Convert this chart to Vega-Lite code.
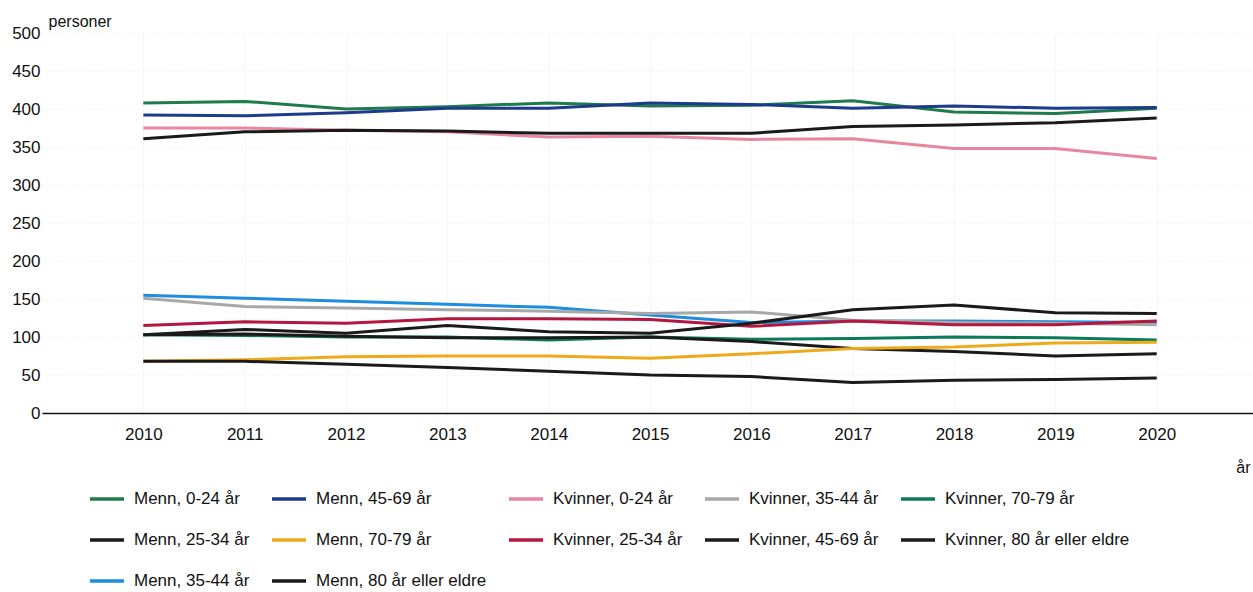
{
  "$schema": "https://vega.github.io/schema/vega-lite/v6.json",
  "width": 1211,
  "height": 380,
  "autosize": {"type": "none"},
  "padding": {"left": 42, "top": 33, "right": 0, "bottom": 179},
  "background": "white",
  "config": {
    "view": {"stroke": null},
    "font": "Liberation Sans"
  },
  "data": {
    "values": [
      {"år": 2010, "gruppe": "Menn, 0-24 år", "personer": 408},
      {"år": 2011, "gruppe": "Menn, 0-24 år", "personer": 410},
      {"år": 2012, "gruppe": "Menn, 0-24 år", "personer": 400},
      {"år": 2013, "gruppe": "Menn, 0-24 år", "personer": 403},
      {"år": 2014, "gruppe": "Menn, 0-24 år", "personer": 408},
      {"år": 2015, "gruppe": "Menn, 0-24 år", "personer": 404},
      {"år": 2016, "gruppe": "Menn, 0-24 år", "personer": 405},
      {"år": 2017, "gruppe": "Menn, 0-24 år", "personer": 411},
      {"år": 2018, "gruppe": "Menn, 0-24 år", "personer": 396},
      {"år": 2019, "gruppe": "Menn, 0-24 år", "personer": 394},
      {"år": 2020, "gruppe": "Menn, 0-24 år", "personer": 401},

      {"år": 2010, "gruppe": "Menn, 45-69 år", "personer": 392},
      {"år": 2011, "gruppe": "Menn, 45-69 år", "personer": 391},
      {"år": 2012, "gruppe": "Menn, 45-69 år", "personer": 395},
      {"år": 2013, "gruppe": "Menn, 45-69 år", "personer": 401},
      {"år": 2014, "gruppe": "Menn, 45-69 år", "personer": 401},
      {"år": 2015, "gruppe": "Menn, 45-69 år", "personer": 408},
      {"år": 2016, "gruppe": "Menn, 45-69 år", "personer": 406},
      {"år": 2017, "gruppe": "Menn, 45-69 år", "personer": 401},
      {"år": 2018, "gruppe": "Menn, 45-69 år", "personer": 404},
      {"år": 2019, "gruppe": "Menn, 45-69 år", "personer": 401},
      {"år": 2020, "gruppe": "Menn, 45-69 år", "personer": 402},

      {"år": 2010, "gruppe": "Kvinner, 0-24 år", "personer": 375},
      {"år": 2011, "gruppe": "Kvinner, 0-24 år", "personer": 375},
      {"år": 2012, "gruppe": "Kvinner, 0-24 år", "personer": 372},
      {"år": 2013, "gruppe": "Kvinner, 0-24 år", "personer": 370},
      {"år": 2014, "gruppe": "Kvinner, 0-24 år", "personer": 363},
      {"år": 2015, "gruppe": "Kvinner, 0-24 år", "personer": 364},
      {"år": 2016, "gruppe": "Kvinner, 0-24 år", "personer": 360},
      {"år": 2017, "gruppe": "Kvinner, 0-24 år", "personer": 361},
      {"år": 2018, "gruppe": "Kvinner, 0-24 år", "personer": 348},
      {"år": 2019, "gruppe": "Kvinner, 0-24 år", "personer": 348},
      {"år": 2020, "gruppe": "Kvinner, 0-24 år", "personer": 335},

      {"år": 2010, "gruppe": "Kvinner, 45-69 år", "personer": 361},
      {"år": 2011, "gruppe": "Kvinner, 45-69 år", "personer": 370},
      {"år": 2012, "gruppe": "Kvinner, 45-69 år", "personer": 372},
      {"år": 2013, "gruppe": "Kvinner, 45-69 år", "personer": 371},
      {"år": 2014, "gruppe": "Kvinner, 45-69 år", "personer": 368},
      {"år": 2015, "gruppe": "Kvinner, 45-69 år", "personer": 368},
      {"år": 2016, "gruppe": "Kvinner, 45-69 år", "personer": 368},
      {"år": 2017, "gruppe": "Kvinner, 45-69 år", "personer": 377},
      {"år": 2018, "gruppe": "Kvinner, 45-69 år", "personer": 379},
      {"år": 2019, "gruppe": "Kvinner, 45-69 år", "personer": 382},
      {"år": 2020, "gruppe": "Kvinner, 45-69 år", "personer": 388},

      {"år": 2010, "gruppe": "Menn, 35-44 år", "personer": 155},
      {"år": 2011, "gruppe": "Menn, 35-44 år", "personer": 151},
      {"år": 2012, "gruppe": "Menn, 35-44 år", "personer": 147},
      {"år": 2013, "gruppe": "Menn, 35-44 år", "personer": 143},
      {"år": 2014, "gruppe": "Menn, 35-44 år", "personer": 139},
      {"år": 2015, "gruppe": "Menn, 35-44 år", "personer": 129},
      {"år": 2016, "gruppe": "Menn, 35-44 år", "personer": 119},
      {"år": 2017, "gruppe": "Menn, 35-44 år", "personer": 121},
      {"år": 2018, "gruppe": "Menn, 35-44 år", "personer": 121},
      {"år": 2019, "gruppe": "Menn, 35-44 år", "personer": 120},
      {"år": 2020, "gruppe": "Menn, 35-44 år", "personer": 119},

      {"år": 2010, "gruppe": "Kvinner, 35-44 år", "personer": 151},
      {"år": 2011, "gruppe": "Kvinner, 35-44 år", "personer": 140},
      {"år": 2012, "gruppe": "Kvinner, 35-44 år", "personer": 138},
      {"år": 2013, "gruppe": "Kvinner, 35-44 år", "personer": 136},
      {"år": 2014, "gruppe": "Kvinner, 35-44 år", "personer": 134},
      {"år": 2015, "gruppe": "Kvinner, 35-44 år", "personer": 131},
      {"år": 2016, "gruppe": "Kvinner, 35-44 år", "personer": 133},
      {"år": 2017, "gruppe": "Kvinner, 35-44 år", "personer": 122},
      {"år": 2018, "gruppe": "Kvinner, 35-44 år", "personer": 119},
      {"år": 2019, "gruppe": "Kvinner, 35-44 år", "personer": 118},
      {"år": 2020, "gruppe": "Kvinner, 35-44 år", "personer": 116},

      {"år": 2010, "gruppe": "Kvinner, 25-34 år", "personer": 115},
      {"år": 2011, "gruppe": "Kvinner, 25-34 år", "personer": 120},
      {"år": 2012, "gruppe": "Kvinner, 25-34 år", "personer": 118},
      {"år": 2013, "gruppe": "Kvinner, 25-34 år", "personer": 124},
      {"år": 2014, "gruppe": "Kvinner, 25-34 år", "personer": 124},
      {"år": 2015, "gruppe": "Kvinner, 25-34 år", "personer": 123},
      {"år": 2016, "gruppe": "Kvinner, 25-34 år", "personer": 114},
      {"år": 2017, "gruppe": "Kvinner, 25-34 år", "personer": 121},
      {"år": 2018, "gruppe": "Kvinner, 25-34 år", "personer": 116},
      {"år": 2019, "gruppe": "Kvinner, 25-34 år", "personer": 116},
      {"år": 2020, "gruppe": "Kvinner, 25-34 år", "personer": 121},

      {"år": 2010, "gruppe": "Menn, 25-34 år", "personer": 103},
      {"år": 2011, "gruppe": "Menn, 25-34 år", "personer": 110},
      {"år": 2012, "gruppe": "Menn, 25-34 år", "personer": 105},
      {"år": 2013, "gruppe": "Menn, 25-34 år", "personer": 115},
      {"år": 2014, "gruppe": "Menn, 25-34 år", "personer": 107},
      {"år": 2015, "gruppe": "Menn, 25-34 år", "personer": 105},
      {"år": 2016, "gruppe": "Menn, 25-34 år", "personer": 118},
      {"år": 2017, "gruppe": "Menn, 25-34 år", "personer": 136},
      {"år": 2018, "gruppe": "Menn, 25-34 år", "personer": 142},
      {"år": 2019, "gruppe": "Menn, 25-34 år", "personer": 132},
      {"år": 2020, "gruppe": "Menn, 25-34 år", "personer": 131},

      {"år": 2010, "gruppe": "Kvinner, 70-79 år", "personer": 103},
      {"år": 2011, "gruppe": "Kvinner, 70-79 år", "personer": 102},
      {"år": 2012, "gruppe": "Kvinner, 70-79 år", "personer": 100},
      {"år": 2013, "gruppe": "Kvinner, 70-79 år", "personer": 100},
      {"år": 2014, "gruppe": "Kvinner, 70-79 år", "personer": 96},
      {"år": 2015, "gruppe": "Kvinner, 70-79 år", "personer": 100},
      {"år": 2016, "gruppe": "Kvinner, 70-79 år", "personer": 97},
      {"år": 2017, "gruppe": "Kvinner, 70-79 år", "personer": 98},
      {"år": 2018, "gruppe": "Kvinner, 70-79 år", "personer": 100},
      {"år": 2019, "gruppe": "Kvinner, 70-79 år", "personer": 99},
      {"år": 2020, "gruppe": "Kvinner, 70-79 år", "personer": 96},

      {"år": 2010, "gruppe": "Kvinner, 80 år eller eldre", "personer": 103},
      {"år": 2011, "gruppe": "Kvinner, 80 år eller eldre", "personer": 104},
      {"år": 2012, "gruppe": "Kvinner, 80 år eller eldre", "personer": 101},
      {"år": 2013, "gruppe": "Kvinner, 80 år eller eldre", "personer": 99},
      {"år": 2014, "gruppe": "Kvinner, 80 år eller eldre", "personer": 99},
      {"år": 2015, "gruppe": "Kvinner, 80 år eller eldre", "personer": 100},
      {"år": 2016, "gruppe": "Kvinner, 80 år eller eldre", "personer": 94},
      {"år": 2017, "gruppe": "Kvinner, 80 år eller eldre", "personer": 85},
      {"år": 2018, "gruppe": "Kvinner, 80 år eller eldre", "personer": 81},
      {"år": 2019, "gruppe": "Kvinner, 80 år eller eldre", "personer": 75},
      {"år": 2020, "gruppe": "Kvinner, 80 år eller eldre", "personer": 78},

      {"år": 2010, "gruppe": "Menn, 70-79 år", "personer": 68},
      {"år": 2011, "gruppe": "Menn, 70-79 år", "personer": 70},
      {"år": 2012, "gruppe": "Menn, 70-79 år", "personer": 74},
      {"år": 2013, "gruppe": "Menn, 70-79 år", "personer": 75},
      {"år": 2014, "gruppe": "Menn, 70-79 år", "personer": 75},
      {"år": 2015, "gruppe": "Menn, 70-79 år", "personer": 72},
      {"år": 2016, "gruppe": "Menn, 70-79 år", "personer": 78},
      {"år": 2017, "gruppe": "Menn, 70-79 år", "personer": 85},
      {"år": 2018, "gruppe": "Menn, 70-79 år", "personer": 87},
      {"år": 2019, "gruppe": "Menn, 70-79 år", "personer": 92},
      {"år": 2020, "gruppe": "Menn, 70-79 år", "personer": 93},

      {"år": 2010, "gruppe": "Menn, 80 år eller eldre", "personer": 68},
      {"år": 2011, "gruppe": "Menn, 80 år eller eldre", "personer": 68},
      {"år": 2012, "gruppe": "Menn, 80 år eller eldre", "personer": 64},
      {"år": 2013, "gruppe": "Menn, 80 år eller eldre", "personer": 60},
      {"år": 2014, "gruppe": "Menn, 80 år eller eldre", "personer": 55},
      {"år": 2015, "gruppe": "Menn, 80 år eller eldre", "personer": 50},
      {"år": 2016, "gruppe": "Menn, 80 år eller eldre", "personer": 48},
      {"år": 2017, "gruppe": "Menn, 80 år eller eldre", "personer": 40},
      {"år": 2018, "gruppe": "Menn, 80 år eller eldre", "personer": 43},
      {"år": 2019, "gruppe": "Menn, 80 år eller eldre", "personer": 44},
      {"år": 2020, "gruppe": "Menn, 80 år eller eldre", "personer": 46}
    ]
  },
  "mark": {"type": "line", "strokeWidth": 3, "interpolate": "linear"},
  "encoding": {
    "x": {
      "field": "år",
      "type": "quantitative",
      "scale": {"domain": [2009, 2020.95], "nice": false, "zero": false},
      "axis": {
        "title": "år",
        "values": [2010, 2011, 2012, 2013, 2014, 2015, 2016, 2017, 2018, 2019, 2020],
        "format": "d",
        "labelAngle": 0,
        "ticks": false,
        "grid": true,
        "gridColor": "#f6f6f6",
        "domainColor": "#111111",
        "domainWidth": 1.5,
        "labelFontSize": 17,
        "labelColor": "#111111",
        "labelPadding": 13,
        "labelFlush": false,
        "labelOverlap": false,
        "titleFontSize": 16,
        "titleFontWeight": "normal",
        "titleColor": "#111111",
        "titleX": 1208,
        "titleY": 54,
        "titleAlign": "right",
        "titleBaseline": "middle",
        "titleAnchor": null
      }
    },
    "y": {
      "field": "personer",
      "type": "quantitative",
      "scale": {"domain": [0, 500], "nice": false},
      "axis": {
        "title": "personer",
        "values": [0, 50, 100, 150, 200, 250, 300, 350, 400, 450, 500],
        "domain": false,
        "ticks": false,
        "grid": true,
        "gridColor": "#f2f2f2",
        "gridDash": [2, 3],
        "labelPadding": 2,
        "labelFontSize": 17,
        "labelColor": "#111111",
        "titleAngle": 0,
        "titleX": 6,
        "titleY": -12,
        "titleAlign": "left",
        "titleBaseline": "middle",
        "titleFontSize": 16,
        "titleFontWeight": "normal",
        "titleColor": "#111111"
      }
    },
    "color": {
      "field": "gruppe",
      "type": "nominal",
      "scale": {
        "domain": [
          "Menn, 0-24 år", "Menn, 45-69 år", "Kvinner, 0-24 år", "Kvinner, 35-44 år", "Kvinner, 70-79 år",
          "Menn, 25-34 år", "Menn, 70-79 år", "Kvinner, 25-34 år", "Kvinner, 45-69 år", "Kvinner, 80 år eller eldre",
          "Menn, 35-44 år", "Menn, 80 år eller eldre"
        ],
        "range": [
          "#1f7a4c", "#1c3b8c", "#e6869f", "#a8a8a8", "#0b7a58",
          "#1a1a1a", "#eeaa1a", "#b3173f", "#1a1a1a", "#1a1a1a",
          "#1e8de0", "#1a1a1a"
        ]
      },
      "legend": {
        "title": null,
        "orient": "none",
        "legendX": 46,
        "legendY": 447,
        "direction": "horizontal",
        "columns": 5,
        "columnPadding": 15,
        "rowPadding": 14,
        "symbolType": "stroke",
        "symbolSize": 1156,
        "symbolStrokeWidth": 3.5,
        "labelFontSize": 17,
        "labelColor": "#111111",
        "labelOffset": 8,
        "labelLimit": 300
      }
    }
  }
}
